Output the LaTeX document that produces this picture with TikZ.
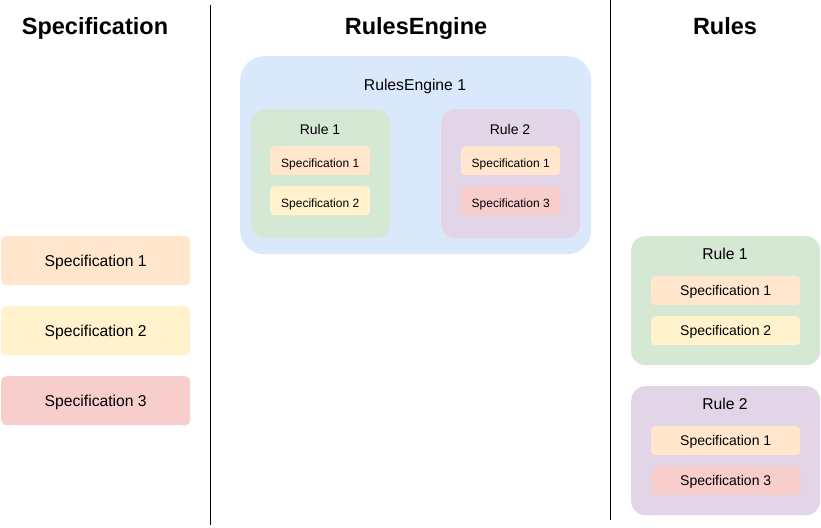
\documentclass[tikz,border=0pt]{standalone}
\usepackage{fontspec}
\setmainfont{Liberation Sans}
\definecolor{cSpecA}{HTML}{FFE6CC}
\definecolor{cSpecB}{HTML}{FFF2CC}
\definecolor{cSpecC}{HTML}{F8CECC}
\definecolor{cEngine}{HTML}{DAE8FC}
\definecolor{cRuleA}{HTML}{D5E8D4}
\definecolor{cRuleB}{HTML}{E1D5E7}
\tikzset{
  box/.style={draw=none, rounded corners=#1, inner sep=0pt, anchor=north west},
  lbl/.style={inner sep=0pt, text depth=0pt},
  title/.style={lbl, font=\fontsize{23.5}{28}\selectfont\bfseries},
  big/.style={lbl, font=\fontsize{15.7}{19}\selectfont},
  mid/.style={lbl, font=\fontsize{14}{17}\selectfont},
  small/.style={lbl, yshift=-2.5pt, font=\fontsize{12}{14}\selectfont},
  divider/.style={line width=1pt, black}
}
\begin{document}
\begin{tikzpicture}[x=1pt,y=-1pt]
\useasboundingbox[fill=white] (0,0) rectangle (821,527);
% titles
\node[title] (t1) at (95,26) {Specification};
\node[title] (t2) at (416,26) {RulesEngine};
\node[title] (t3) at (725,26) {Rules};
% dividers
\draw[divider] (210,5) -- (210,525);
\draw[divider] (610,0) -- (610,520);
% left specifications
\node[box=5pt, fill=cSpecA, minimum width=189pt, minimum height=49pt] (ls1) at (1,236) {};
\node[big] at (ls1.center) {Specification 1};
\node[box=5pt, fill=cSpecB, minimum width=189pt, minimum height=49pt] (ls2) at (1,306) {};
\node[big] at (ls2.center) {Specification 2};
\node[box=5pt, fill=cSpecC, minimum width=189pt, minimum height=49pt] (ls3) at (1,376) {};
\node[big] at (ls3.center) {Specification 3};
% rules engine
\node[box=24pt, fill=cEngine, minimum width=351pt, minimum height=198pt] (eng) at (240,56) {};
\node[big] at (415,85) {RulesEngine 1};
\node[box=14pt, fill=cRuleA, minimum width=139pt, minimum height=129pt] (er1) at (251,109) {};
\node[mid] at (320,129) {Rule 1};
\node[box=4pt, fill=cSpecA, minimum width=100pt, minimum height=29pt] (er1s1) at (270,146) {};
\node[small] at (er1s1.center) {Specification 1};
\node[box=4pt, fill=cSpecB, minimum width=100pt, minimum height=29pt] (er1s2) at (270,186) {};
\node[small] at (er1s2.center) {Specification 2};
\node[box=14pt, fill=cRuleB, minimum width=139pt, minimum height=129pt] (er2) at (441,109) {};
\node[mid] at (510,129) {Rule 2};
\node[box=4pt, fill=cSpecA, minimum width=99pt, minimum height=29pt] (er2s1) at (461,146) {};
\node[small] at (er2s1.center) {Specification 1};
\node[box=4pt, fill=cSpecC, minimum width=99pt, minimum height=29pt] (er2s2) at (461,186) {};
\node[small] at (er2s2.center) {Specification 3};
% rules
\node[box=14pt, fill=cRuleA, minimum width=189pt, minimum height=129pt] (r1) at (631,236) {};
\node[big] at (725,254) {Rule 1};
\node[box=4pt, fill=cSpecA, minimum width=149pt, minimum height=29pt] (r1s1) at (651,276) {};
\node[mid] at (r1s1.center) {Specification 1};
\node[box=4pt, fill=cSpecB, minimum width=149pt, minimum height=29pt] (r1s2) at (651,316) {};
\node[mid] at (r1s2.center) {Specification 2};
\node[box=14pt, fill=cRuleB, minimum width=189pt, minimum height=129pt] (r2) at (631,386) {};
\node[big] at (725,404) {Rule 2};
\node[box=4pt, fill=cSpecA, minimum width=149pt, minimum height=29pt] (r2s1) at (651,426) {};
\node[mid] at (r2s1.center) {Specification 1};
\node[box=4pt, fill=cSpecC, minimum width=149pt, minimum height=29pt] (r2s2) at (651,466) {};
\node[mid] at (r2s2.center) {Specification 3};
\end{tikzpicture}
\end{document}
